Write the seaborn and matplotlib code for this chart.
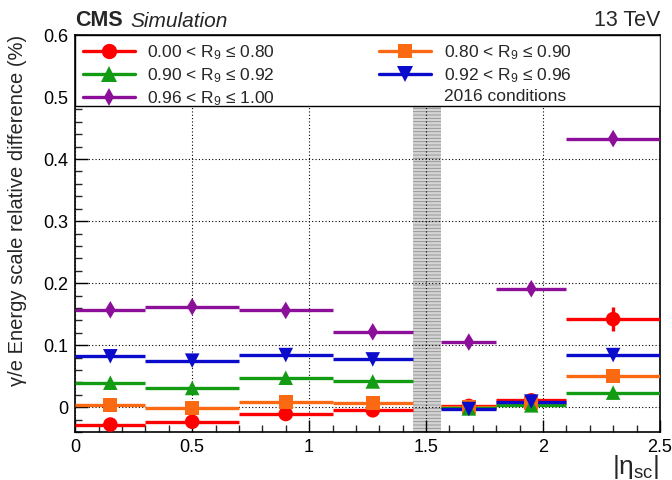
import matplotlib
matplotlib.use("Agg")
import matplotlib.pyplot as plt
from matplotlib.lines import Line2D
from matplotlib.patches import Rectangle
from matplotlib.ticker import MultipleLocator, FuncFormatter
import numpy as np
import pandas as pd
import seaborn as sns

# |eta_SC| bins (barrel: 0-1.4442, endcap: 1.566-2.5)
bin_lo = [0.0, 0.3, 0.7, 1.1, 1.566, 1.8, 2.1]
bin_hi = [0.3, 0.7, 1.1, 1.4442, 1.8, 2.1, 2.5]
gap_lo, gap_hi = 1.4442, 1.566

r9_labels = [
    r"0.00 < R$_{9}$ ≤ 0.80",
    r"0.80 < R$_{9}$ ≤ 0.90",
    r"0.90 < R$_{9}$ ≤ 0.92",
    r"0.92 < R$_{9}$ ≤ 0.96",
    r"0.96 < R$_{9}$ ≤ 1.00",
]

# relative energy-scale difference (%) per R9 category, one value per eta bin
diff_r9_000_080 = [-0.028, -0.0235, -0.011, -0.005, 0.002, 0.011, 0.142]
diff_r9_080_090 = [0.004, -0.002, 0.009, 0.0065, 0.000, 0.007, 0.050]
diff_r9_090_092 = [0.0395, 0.031, 0.0475, 0.0415, -0.002, 0.003, 0.0235]
diff_r9_092_096 = [0.082, 0.075, 0.084, 0.077, -0.003, 0.009, 0.084]
diff_r9_096_100 = [0.157, 0.162, 0.156, 0.1215, 0.105, 0.191, 0.433]

# statistical uncertainties
err_r9_000_080 = [0.002, 0.002, 0.002, 0.002, 0.002, 0.002, 0.019]
err_r9_080_090 = [0.001, 0.001, 0.001, 0.001, 0.001, 0.001, 0.003]
err_r9_090_092 = [0.001, 0.001, 0.001, 0.001, 0.001, 0.001, 0.003]
err_r9_092_096 = [0.001, 0.001, 0.001, 0.001, 0.001, 0.001, 0.003]
err_r9_096_100 = [0.001, 0.001, 0.001, 0.001, 0.001, 0.001, 0.003]

colors = ["#ff0000", "#fb6a12", "#139c13", "#0b0bcc", "#8c0f9a"]
markers = ["o", "s", "^", "v", "d"]
msizes = [110, 100, 110, 110, 80]

values = [diff_r9_000_080, diff_r9_080_090, diff_r9_090_092,
          diff_r9_092_096, diff_r9_096_100]
errors = [err_r9_000_080, err_r9_080_090, err_r9_090_092,
          err_r9_092_096, err_r9_096_100]

centers = [(a + b) / 2 for a, b in zip(bin_lo, bin_hi)]
rows = []
for lab, vals, errs in zip(r9_labels, values, errors):
    for lo, hi, c, v, e in zip(bin_lo, bin_hi, centers, vals, errs):
        rows.append(dict(cat=lab, lo=lo, hi=hi, eta=c, diff=v, err=e))
df = pd.DataFrame(rows)

sns.set_theme(style="ticks")
plt.rcParams["font.family"] = ["Liberation Sans", "DejaVu Sans"]
plt.rcParams["mathtext.fontset"] = "custom"
plt.rcParams["mathtext.rm"] = "Liberation Sans"
plt.rcParams["mathtext.it"] = "Liberation Sans:italic"
plt.rcParams["hatch.linewidth"] = 0.6

fig = plt.figure(figsize=(6.72, 4.8), dpi=100)
ax = fig.add_axes([0.112, 0.1, 0.870, 0.827])

# gap between barrel and endcap
ax.axvspan(gap_lo, gap_hi, facecolor="#d4d4d4", edgecolor="#8f8f8f",
           hatch="-----", linewidth=0, zorder=0.3)

# horizontal bars spanning each eta bin, plus vertical error bars
for k, (lab, col) in enumerate(zip(r9_labels, colors)):
    sub = df[df["cat"] == lab]
    ax.hlines(sub["diff"], sub["lo"], sub["hi"], colors=col, lw=2.4, zorder=3 + k)
    ax.vlines(sub["eta"], sub["diff"] - sub["err"], sub["diff"] + sub["err"],
              colors=col, lw=2.4, zorder=3 + k)

sns.scatterplot(data=df, x="eta", y="diff", hue="cat", style="cat", size="cat",
                palette=dict(zip(r9_labels, colors)),
                markers=dict(zip(r9_labels, markers)),
                sizes=dict(zip(r9_labels, msizes)),
                linewidth=0, legend=False, ax=ax, zorder=10)

ax.set_xlim(0, 2.5)
ax.set_ylim(-0.04, 0.6)

ax.xaxis.set_major_locator(MultipleLocator(0.5))
ax.xaxis.set_minor_locator(MultipleLocator(0.1))
ax.yaxis.set_major_locator(MultipleLocator(0.1))
ax.yaxis.set_minor_locator(MultipleLocator(0.02))
fmt = FuncFormatter(lambda v, p: ("%g" % round(v, 3)))
ax.xaxis.set_major_formatter(fmt)
ax.yaxis.set_major_formatter(fmt)
ax.tick_params(which="major", direction="in", length=9, width=1, labelsize=13,
               colors="black", pad=5)
ax.tick_params(which="minor", direction="in", length=5, width=1)
for s in ax.spines.values():
    s.set_linewidth(1.2)
    s.set_color("black")

ax.grid(True, which="major", linestyle=(0, (1, 2)), color="black", lw=0.8)
ax.set_axisbelow(True)

ax.set_ylabel("γ/e Energy scale relative difference (%)", fontsize=14.5, loc="top")
ax.yaxis.set_label_coords(-0.083, 1.0)
ax.set_xlabel(r"|η$_{\rm sc}$|", fontsize=19, loc="right", labelpad=-2)

ax.text(0.0, 1.01, "CMS", transform=ax.transAxes, fontsize=15.5,
        fontweight="bold", ha="left", va="bottom")
ax.text(0.094, 1.01, "Simulation", transform=ax.transAxes, fontsize=15,
        style="italic", ha="left", va="bottom")
ax.text(1.0, 1.01, "13 TeV", transform=ax.transAxes, fontsize=15.5,
        ha="right", va="bottom")

# legend box spanning the full width of the frame
ax.add_patch(Rectangle((0.0, 0.82), 1.0, 0.18, transform=ax.transAxes,
                       facecolor="white", edgecolor="black", lw=1.0, zorder=15))

def entry(col, mk, ms):
    return Line2D([], [], color=col, lw=2.4, marker=mk, markersize=ms,
                  markeredgewidth=0)

handles = [entry(c, m, s) for c, m, s in zip(colors, markers, [11, 10, 11, 11, 9])]
blank = Line2D([], [], color="none")
# two columns, filled row by row
order_h = [handles[0], handles[2], handles[4], handles[1], handles[3], blank]
order_l = [r9_labels[0], r9_labels[2], r9_labels[4], r9_labels[1], r9_labels[3],
           "2016 conditions"]
leg = ax.legend(order_h, order_l, ncol=2, loc="upper left",
                bbox_to_anchor=(0.0, 1.0), frameon=False,
                fontsize=12.5, handlelength=3.0, handletextpad=0.7,
                labelspacing=0.25, borderaxespad=0.15, borderpad=0.3,
                columnspacing=6.0)
leg.set_zorder(20)

fig.savefig("out.png", dpi=100)
